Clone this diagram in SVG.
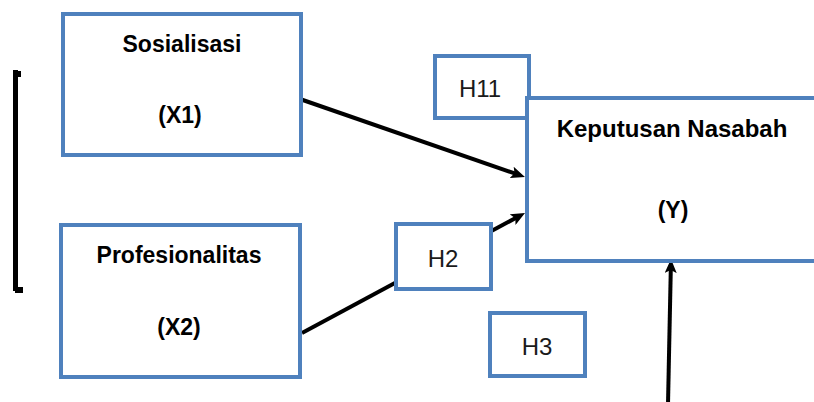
<svg xmlns="http://www.w3.org/2000/svg" width="814" height="402" viewBox="0 0 814 402">
<style>
.box{fill:#fff;stroke:#4F81BD;stroke-width:4}
.b{font-family:"Liberation Sans",Arial,sans-serif;font-weight:bold;font-size:23px;fill:#000;text-anchor:middle}
.r{font-family:"Liberation Sans",Arial,sans-serif;font-size:24px;fill:#1a1a1a;text-anchor:middle}
.conn{stroke:#000;stroke-width:4;fill:none;marker-end:url(#ah)}
</style>
<defs>
<marker id="ah" markerUnits="userSpaceOnUse" markerWidth="15" markerHeight="12" refX="4" refY="6" orient="auto" viewBox="0 0 15 12">
<path d="M0,0 L14,6 L0,12 L3,6 z" fill="#000"/>
</marker>
</defs>
<rect width="814" height="402" fill="#fff"/>
<g id="connectors">
<line class="conn" x1="297" y1="98" x2="515.5" y2="173.7"/>
<line class="conn" x1="302" y1="333" x2="516.2" y2="217.7"/>
<line class="conn" x1="668" y1="404" x2="670.8" y2="269"/>
</g>
<g id="bracket">
<path d="M15.5,70 L15.5,291" stroke="#000" stroke-width="5" fill="none"/>
<rect x="15" y="71" width="6" height="6" fill="#000"/>
<rect x="15" y="287" width="8" height="6" fill="#000"/>
</g>
<g id="x1">
<rect class="box" x="63" y="14" width="238" height="141"/>
<text class="b" x="182" y="52">Sosialisasi</text>
<text class="b" x="180" y="123">(X1)</text>
</g>
<g id="x2">
<rect class="box" x="61" y="225" width="239" height="152"/>
<text class="b" x="179" y="263">Profesionalitas</text>
<text class="b" x="179" y="335">(X2)</text>
</g>
<g id="h11">
<rect class="box" x="435" y="56" width="94" height="62"/>
<text class="r" x="480" y="97">H11</text>
</g>
<g id="y">
<rect class="box" x="527" y="98" width="300" height="163"/>
<text class="b" x="672" y="137" style="font-size:24px">Keputusan Nasabah</text>
<text class="b" x="673" y="218">(Y)</text>
</g>
<g id="h2">
<rect class="box" x="396" y="224" width="95" height="65"/>
<text class="r" x="443" y="267">H2</text>
</g>
<g id="h3">
<rect class="box" x="490" y="313" width="95" height="63"/>
<text class="r" x="537" y="355">H3</text>
</g>
</svg>
